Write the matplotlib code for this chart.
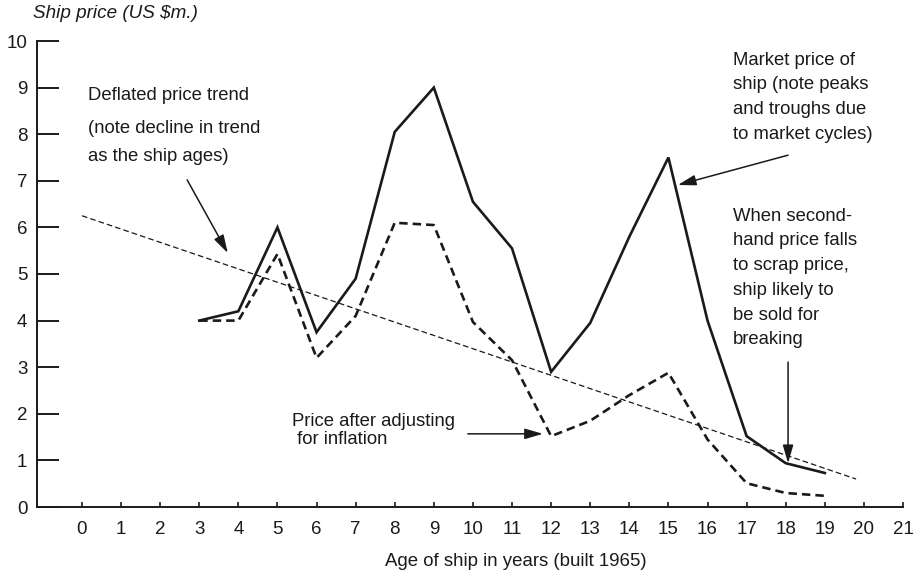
import matplotlib
matplotlib.use("Agg")
import matplotlib.pyplot as plt

ages = list(range(3, 20))
market_price = [4.0, 4.2, 6.0, 3.75, 4.9, 8.05, 9.0, 6.55, 5.55, 2.9,
                3.95, 5.8, 7.5, 4.0, 1.52, 0.94, 0.73]
adjusted_price = [4.0, 4.0, 5.43, 3.2, 4.1, 6.1, 6.05, 3.97, 3.15, 1.52,
                  1.85, 2.4, 2.88, 1.45, 0.51, 0.30, 0.24]
trend_x = [0, 19.8]
trend_y = [6.25, 0.6]

x_ticks = list(range(0, 22))
y_ticks = list(range(0, 11))

INK = "#1a1a1a"

plt.rcParams["font.family"] = ["Liberation Sans", "DejaVu Sans"]
plt.rcParams["text.color"] = INK

fig = plt.figure(figsize=(9.16, 5.74), dpi=100)
ax = fig.add_axes([37 / 916, 1 - 507 / 574, (903 - 37) / 916, (507 - 41) / 574])

ax.plot(ages, market_price, color=INK, lw=1.9, solid_joinstyle="miter")
ax.plot(ages, adjusted_price, color=INK, lw=1.9, dashes=(3.2, 1.9))
ax.plot(trend_x, trend_y, color=INK, lw=0.9, dashes=(4.5, 2.5))

ax.set_xlim(-1.15, 21)
ax.set_ylim(0, 10)
ax.set_xticks(x_ticks)
ax.set_yticks(y_ticks)
ax.spines[["top", "right"]].set_visible(False)
for s in ("left", "bottom"):
    ax.spines[s].set_color(INK)
    ax.spines[s].set_linewidth(1.4)
ax.tick_params(axis="y", direction="in", length=16, width=1.4, pad=7,
               labelsize=13.5, colors=INK)
ax.tick_params(axis="x", direction="in", length=3.5, width=1.2, pad=10,
               labelsize=13.5, colors=INK)

fig.text(33 / 916, 1 - 13 / 574, "Ship price (US $m.)", style="italic",
         fontsize=13.6, va="center", ha="left")
fig.text(516 / 916, 1 - 561 / 574, "Age of ship in years (built 1965)",
         fontsize=13.4, va="center", ha="center")

txt = dict(fontsize=13.3, ha="left", va="top", color=INK)
ax.text(0.15, 9.01, "Deflated price trend", **txt)
ax.text(0.15, 8.31, "(note decline in trend\nas the ship ages)", linespacing=1.9, **txt)
ax.text(16.65, 9.77, "Market price of\nship (note peaks\nand troughs due\nto market cycles)",
        linespacing=1.59, **txt)
ax.text(16.65, 6.42, "When second-\nhand price falls\nto scrap price,\nship likely to\n"
        "be sold for\nbreaking", linespacing=1.59, **txt)
ax.text(5.37, 2.02, "Price after adjusting\n for inflation", linespacing=1.1, **txt)

arrow = dict(arrowstyle="-|>,head_length=1.1,head_width=0.32", color=INK,
             lw=1.1, shrinkA=0, shrinkB=0)
ax.annotate("", xy=(3.73, 5.45), xytext=(2.69, 7.02), arrowprops=arrow)
ax.annotate("", xy=(15.24, 6.91), xytext=(18.06, 7.55), arrowprops=arrow)
ax.annotate("", xy=(18.06, 0.94), xytext=(18.06, 3.11), arrowprops=arrow)
ax.annotate("", xy=(11.79, 1.57), xytext=(9.87, 1.57), arrowprops=arrow)

fig.savefig("out.png", dpi=100, facecolor="white")
